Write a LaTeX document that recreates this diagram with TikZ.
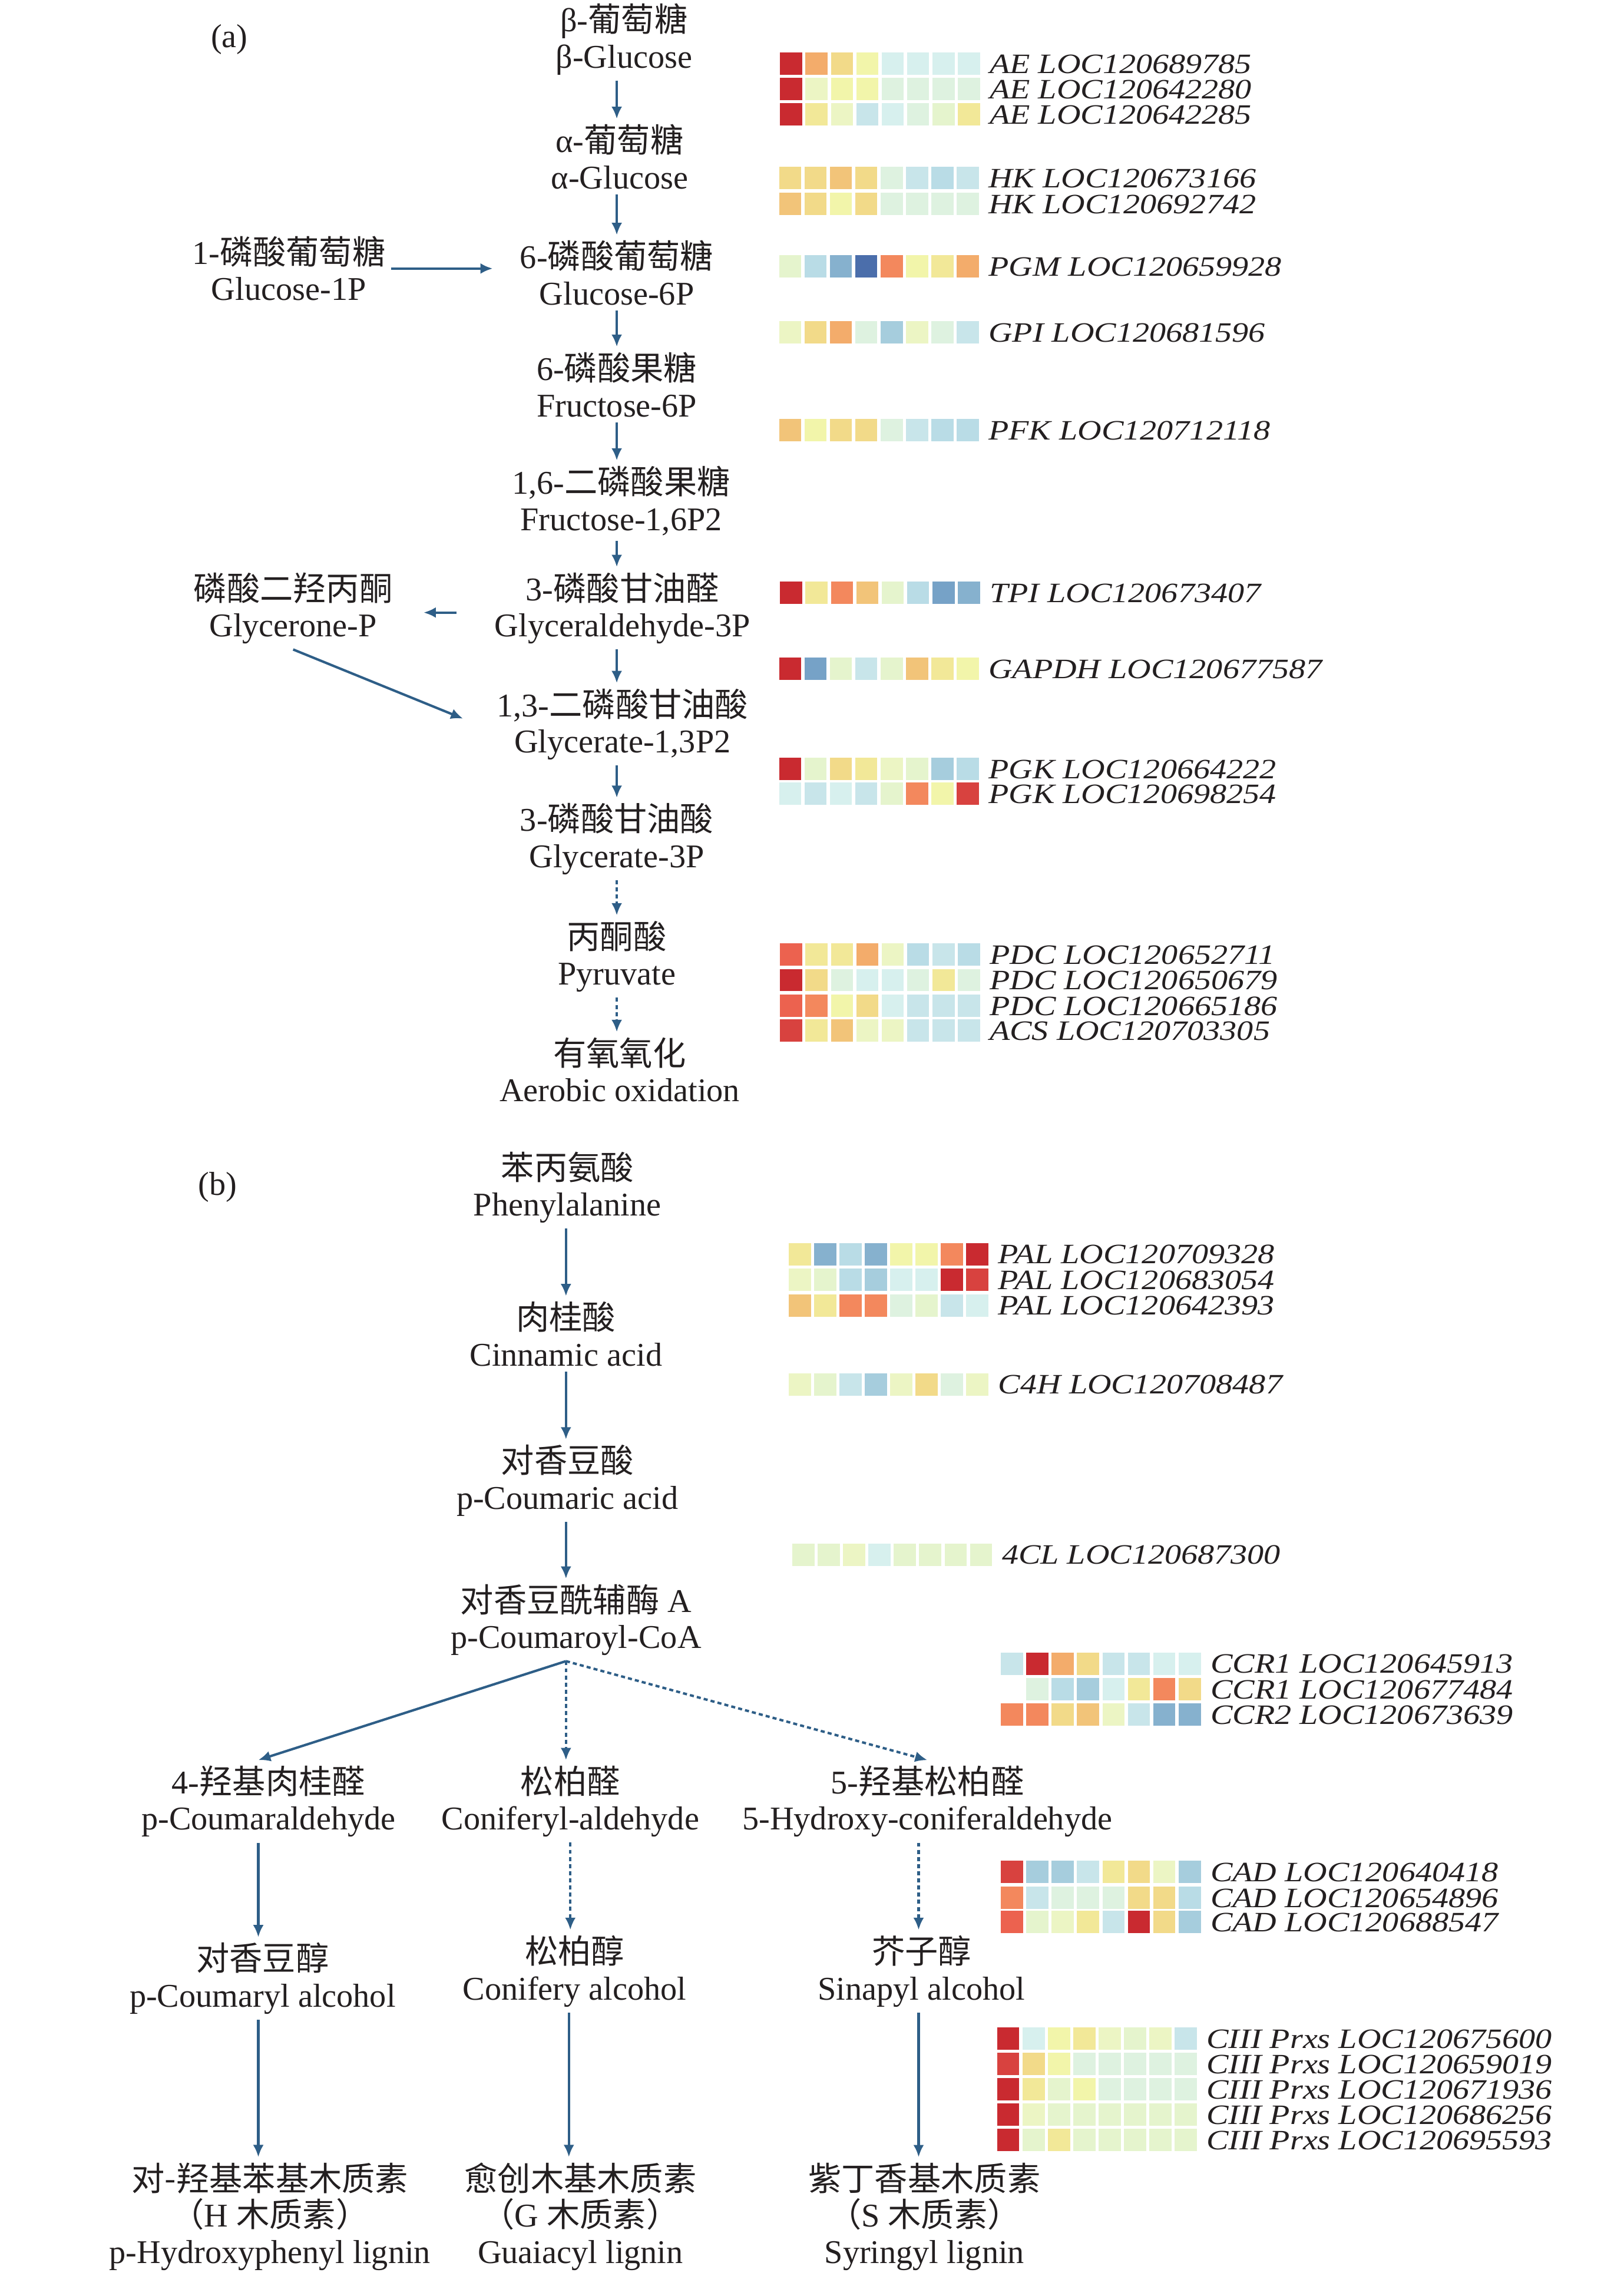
\documentclass[tikz,border=0pt]{standalone}
\usepackage{fontspec}
\setmainfont{Liberation Serif}
\newfontfamily\cjk{Noto Sans CJK SC}
\newfontfamily\genefont[FakeStretch=1.18]{Liberation Serif}
\usetikzlibrary{arrows.meta}

\definecolor{txt}{HTML}{231F20}
\definecolor{flowblue}{HTML}{2E5E87}
\definecolor{hR1}{HTML}{C92A30}
\definecolor{hR2}{HTML}{D8423F}
\definecolor{hR3}{HTML}{EC624F}
\definecolor{hO1}{HTML}{F3885D}
\definecolor{hO2}{HTML}{F3AC6B}
\definecolor{hY1}{HTML}{F2C479}
\definecolor{hY2}{HTML}{F2DA89}
\definecolor{hYa}{HTML}{F2E898}
\definecolor{hY3}{HTML}{F2F5AA}
\definecolor{hY4}{HTML}{ECF5C4}
\definecolor{hG1}{HTML}{E5F4CD}
\definecolor{hG2}{HTML}{DEF2E0}
\definecolor{hC1}{HTML}{D7F0EE}
\definecolor{hC2}{HTML}{C8E5EA}
\definecolor{hB1}{HTML}{B9DCE6}
\definecolor{hB2}{HTML}{A6CDDD}
\definecolor{hB3}{HTML}{86B1CE}
\definecolor{hB4}{HTML}{76A2C7}
\definecolor{hB5}{HTML}{4B6EAB}

\newcommand{\zh}[1]{{\cjk #1}}
\newcommand{\hmrow}[5]{%
  \foreach \hc [count=\hi from 0] in {#4}
    \fill[\hc] ({#2+\hi*17.46},{#3}) rectangle ++(15.4,15.4);
  \node[gene] (#1) at ({#2+144},{#3+8}) {#5};}

\begin{document}
\begin{tikzpicture}[x=0.02cm,y=-0.02cm,
    every node/.style={text=txt,font=\fontsize{13}{14.2}\selectfont},
    met/.style={align=center,inner sep=2pt},
    gene/.style={anchor=west,inner sep=0pt,font=\genefont\fontsize{11}{12}\selectfont\itshape},
    flow/.style={draw=flowblue,line width=0.95pt,-{Latex[length=4.8pt,width=4.2pt]}},
    dflow/.style={flow,dash pattern=on 1.6pt off 1.2pt}]
  \useasboundingbox (0,0) rectangle (1119,1568);

  \node (pa) at (158,27) {(a)};
  \node (pb) at (150,818) {(b)};

  \node[met] (bglc) at (430,27) {β-\zh{葡萄糖}\\β-Glucose};
  \node[met] (aglc) at (427,108) {α-\zh{葡萄糖}\\α-Glucose};
  \node[met] (g6p) at (425,188) {6-\zh{磷酸葡萄糖}\\Glucose-6P};
  \node[met] (g1p) at (199,185) {1-\zh{磷酸葡萄糖}\\Glucose-1P};
  \node[met] (f6p) at (425,265) {6-\zh{磷酸果糖}\\Fructose-6P};
  \node[met] (f16) at (428,345) {1,6-\zh{二磷酸果糖}\\Fructose-1,6P2};
  \node[met] (gap) at (429,419) {3-\zh{磷酸甘油醛}\\Glyceraldehyde-3P};
  \node[met] (dhap) at (202,419) {\zh{磷酸二羟丙酮}\\Glycerone-P};
  \node[met] (bpg) at (429,499) {1,3-\zh{二磷酸甘油酸}\\Glycerate-1,3P2};
  \node[met] (pga) at (425,578) {3-\zh{磷酸甘油酸}\\Glycerate-3P};
  \node[met] (pyr) at (425,659) {\zh{丙酮酸}\\Pyruvate};
  \node[met] (aer) at (427,737) {\zh{有氧氧化}\\Aerobic oxidation};

  \draw[flow] (bglc.south -| g6p) -- (aglc.north -| g6p);
  \draw[flow] (aglc.south -| g6p) -- (g6p.north);
  \draw[flow] (g6p.south) -- (f6p.north);
  \draw[flow] (f6p.south) -- (f16.north -| f6p);
  \draw[flow] (f16.south -| f6p) -- (gap.north -| f6p);
  \draw[flow] (gap.south -| f6p) -- (bpg.north -| f6p);
  \draw[flow] (bpg.south -| f6p) -- (pga.north);
  \draw[dflow] (pga.south) -- (pyr.north);
  \draw[dflow] (pyr.south) -- (aer.north -| pyr);
  \draw[flow,shorten >=0.3cm] (g1p.east) -- (g1p.east -| g6p.west);
  \draw[flow,shorten <=0.45cm,shorten >=0.35cm] ([yshift=-0.06cm]gap.west) -- ([yshift=-0.06cm]gap.west -| dhap.east);
  \draw[flow,shorten >=0.42cm] (dhap.south) -- ([yshift=-0.08cm]bpg.west);

  \hmrow{ae1}{537.6}{36.1}{hR1,hO2,hY2,hY3,hC1,hC1,hC1,hC1}{AE LOC120689785}
  \hmrow{ae2}{537.6}{53.6}{hR1,hY4,hY3,hY3,hG2,hG2,hG2,hG2}{AE LOC120642280}
  \hmrow{ae3}{537.6}{71.0}{hR1,hYa,hY4,hC2,hC1,hG2,hG1,hYa}{AE LOC120642285}
  \hmrow{hk1}{536.8}{114.9}{hY2,hY2,hY1,hY2,hG2,hC2,hB1,hC2}{HK LOC120673166}
  \hmrow{hk2}{536.8}{132.8}{hY1,hY2,hY3,hY2,hG2,hG2,hG2,hG2}{HK LOC120692742}
  \hmrow{pgm}{536.8}{175.8}{hG1,hB1,hB3,hB5,hO1,hY3,hYa,hO2}{PGM LOC120659928}
  \hmrow{gpi}{536.8}{221.3}{hY4,hY2,hO2,hG2,hB2,hY4,hG2,hC2}{GPI LOC120681596}
  \hmrow{pfk}{536.8}{288.7}{hY1,hY3,hY2,hY2,hG2,hC2,hB1,hB1}{PFK LOC120712118}
  \hmrow{tpi}{537.6}{400.7}{hR1,hYa,hO1,hY1,hG1,hB1,hB4,hB3}{TPI LOC120673407}
  \hmrow{gapdh}{536.8}{453.1}{hR1,hB4,hG1,hC2,hG1,hY1,hYa,hY3}{GAPDH LOC120677587}
  \hmrow{pgk1}{536.8}{522.1}{hR1,hG1,hY2,hYa,hY4,hG1,hB2,hB1}{PGK LOC120664222}
  \hmrow{pgk2}{536.8}{539.2}{hC1,hC2,hC1,hC2,hG1,hO1,hY3,hR2}{PGK LOC120698254}
  \hmrow{pdc1}{537.6}{650.0}{hR3,hYa,hYa,hO2,hY4,hB1,hC2,hB1}{PDC LOC120652711}
  \hmrow{pdc2}{537.6}{667.5}{hR1,hY2,hG2,hC1,hC1,hG2,hYa,hG2}{PDC LOC120650679}
  \hmrow{pdc3}{537.6}{685.3}{hR3,hO1,hY3,hY2,hC1,hC2,hC2,hC2}{PDC LOC120665186}
  \hmrow{acs}{537.6}{702.4}{hR2,hYa,hY1,hY4,hY4,hC2,hC2,hC2}{ACS LOC120703305}

  \node[met] (phe) at (391,818) {\zh{苯丙氨酸}\\Phenylalanine};
  \node[met] (cin) at (390,919) {\zh{肉桂酸}\\Cinnamic acid};
  \node[met] (pca) at (391,1020) {\zh{对香豆酸}\\p-Coumaric acid};
  \node[met] (coa) at (397,1116) {\zh{对香豆酰辅酶} A\\p-Coumaroyl-CoA};
  \node[met] (pcald) at (185,1241) {4-\zh{羟基肉桂醛}\\p-Coumaraldehyde};
  \node[met] (conald) at (393,1241) {\zh{松柏醛}\\Coniferyl-aldehyde};
  \node[met] (hcald) at (639,1241) {5-\zh{羟基松柏醛}\\5-Hydroxy-coniferaldehyde};
  \node[met] (pcalc) at (181,1363) {\zh{对香豆醇}\\p-Coumaryl alcohol};
  \node[met] (conalc) at (396,1358) {\zh{松柏醇}\\Conifery alcohol};
  \node[met] (sinalc) at (635,1358) {\zh{芥子醇}\\Sinapyl alcohol};
  \node[met] (hlig) at (186,1527) {\zh{对-羟基苯基木质素}\\\zh{（}H \zh{木质素）}\\p-Hydroxyphenyl lignin};
  \node[met] (glig) at (400,1527) {\zh{愈创木基木质素}\\\zh{（}G \zh{木质素）}\\Guaiacyl lignin};
  \node[met] (slig) at (637,1527) {\zh{紫丁香基木质素}\\\zh{（}S \zh{木质素）}\\Syringyl lignin};

  \draw[flow] (phe.south -| cin) -- (cin.north);
  \draw[flow] (cin.south) -- (pca.north -| cin);
  \draw[flow] (pca.south -| cin) -- (coa.north -| cin);
  \draw[flow] (coa.south -| cin) -- ([xshift=-0.14cm]pcald.north);
  \draw[dflow] (coa.south -| cin) -- (conald.north -| cin);
  \draw[dflow] (coa.south -| cin) -- (hcald.north);
  \draw[flow] ([xshift=-0.14cm]pcald.south) -- ([xshift=-0.14cm]pcald.south |- pcalc.north);
  \draw[dflow] (conald.south) -- (conald.south |- conalc.north);
  \draw[dflow] ([xshift=-0.12cm]hcald.south) -- ([xshift=-0.12cm]hcald.south |- sinalc.north);
  \draw[flow] ([xshift=-0.06cm]pcalc.south) -- ([xshift=-0.06cm]pcalc.south |- hlig.north);
  \draw[flow] ([xshift=-0.08cm]conalc.south) -- ([xshift=-0.08cm]conalc.south |- glig.north);
  \draw[flow] ([xshift=-0.04cm]sinalc.south) -- ([xshift=-0.04cm]sinalc.south |- slig.north);

  \hmrow{pal1}{543.6}{856.3}{hYa,hB3,hB1,hB3,hY3,hY3,hO1,hR1}{PAL LOC120709328}
  \hmrow{pal2}{543.6}{873.8}{hY4,hG1,hB1,hB2,hC1,hC1,hR1,hR2}{PAL LOC120683054}
  \hmrow{pal3}{543.6}{891.6}{hY1,hYa,hO1,hO1,hG2,hG1,hC2,hC1}{PAL LOC120642393}
  \hmrow{c4h}{543.6}{946.0}{hY4,hG1,hC2,hB2,hY4,hY2,hG2,hY4}{C4H LOC120708487}
  \hmrow{fcl}{546.1}{1063.3}{hG1,hG1,hY4,hC1,hG1,hG1,hG1,hG1}{4CL LOC120687300}
  \hmrow{ccr1}{689.8}{1138.4}{hC2,hR1,hO2,hY2,hC2,hC2,hC1,hC1}{CCR1 LOC120645913}
  \hmrow{ccr2}{689.8}{1155.9}{white,hG2,hB1,hB2,hC1,hYa,hO1,hY2}{CCR1 LOC120677484}
  \hmrow{ccr3}{689.8}{1173.4}{hO1,hO1,hY2,hY1,hY4,hC2,hB3,hB3}{CCR2 LOC120673639}
  \hmrow{cad1}{689.8}{1281.8}{hR2,hB2,hB2,hC2,hYa,hY2,hY4,hB2}{CAD LOC120640418}
  \hmrow{cad2}{689.8}{1299.6}{hO1,hC2,hG2,hG2,hG2,hY2,hY2,hB1}{CAD LOC120654896}
  \hmrow{cad3}{689.8}{1316.3}{hR3,hG1,hY4,hYa,hC2,hR1,hY2,hB2}{CAD LOC120688547}
  \hmrow{prx1}{687.0}{1396.7}{hR1,hC1,hY3,hYa,hY4,hG1,hY4,hC2}{CIII Prxs LOC120675600}
  \hmrow{prx2}{687.0}{1414.1}{hR2,hY2,hY3,hG2,hG2,hG2,hG2,hG2}{CIII Prxs LOC120659019}
  \hmrow{prx3}{687.0}{1431.6}{hR1,hYa,hG1,hY3,hG2,hG2,hG2,hG2}{CIII Prxs LOC120671936}
  \hmrow{prx4}{687.0}{1449.1}{hR1,hY4,hG1,hG1,hG1,hG1,hG1,hG1}{CIII Prxs LOC120686256}
  \hmrow{prx5}{687.0}{1466.5}{hR1,hG1,hYa,hG1,hG1,hG1,hG1,hG1}{CIII Prxs LOC120695593}
\end{tikzpicture}
\end{document}
